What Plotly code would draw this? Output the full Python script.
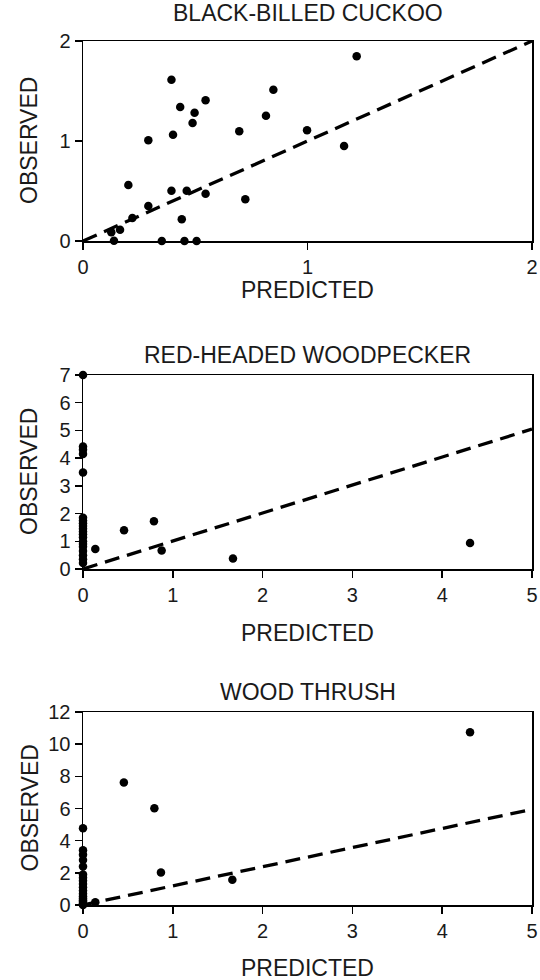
import plotly.graph_objects as go

# ---- data ----
titles = ["BLACK-BILLED CUCKOO", "RED-HEADED WOODPECKER", "WOOD THRUSH"]
x_title = "PREDICTED"
y_title = "OBSERVED"

cuckoo_pred = [1.219, 0.394, 0.848, 0.546, 0.433, 0.497, 0.488, 0.815, 0.696, 0.401,
               0.291, 0.998, 1.163, 0.202, 0.394, 0.462, 0.546, 0.723, 0.291, 0.22,
               0.44, 0.126, 0.165, 0.138, 0.351, 0.452, 0.506]
cuckoo_obs = [1.847, 1.613, 1.513, 1.407, 1.34, 1.283, 1.18, 1.253, 1.097, 1.063,
              1.007, 1.107, 0.95, 0.56, 0.503, 0.503, 0.473, 0.417, 0.35, 0.23,
              0.217, 0.087, 0.113, 0.003, 0.0, 0.0, 0.0]

wood_pred = [0, 0, 0, 0, 0, 0, 0, 0, 0, 0, 0, 0, 0, 0, 0, 0, 0, 0, 0, 0,
             0.137, 0.457, 0.79, 0.876, 1.67, 4.31]
wood_obs = [7.0, 4.42, 4.3, 4.15, 3.48, 1.85, 1.75, 1.65, 1.55, 1.45, 1.35, 1.25,
            1.15, 1.0, 0.9, 0.8, 0.65, 0.5, 0.35, 0.22,
            0.72, 1.40, 1.72, 0.67, 0.38, 0.94]

thrush_pred = [0, 0, 0, 0, 0, 0, 0, 0, 0, 0, 0, 0, 0, 0, 0, 0, 0, 0, 0,
               0.137, 0.455, 0.795, 0.868, 1.663, 4.31]
thrush_obs = [4.77, 3.4, 3.12, 2.8, 2.4, 1.9, 1.7, 1.5, 1.3, 1.1, 0.9, 0.7, 0.55,
              0.4, 0.3, 0.2, 0.1, 0.05, 0.0,
              0.165, 7.62, 6.01, 2.02, 1.57, 10.74]

line_x = [[0, 2], [0, 5], [0, 5]]
line_y = [[0, 2], [0, 5.05], [0, 5.95]]

x_ranges = [[0, 2], [0, 5], [0, 5]]
y_ranges = [[0, 2], [0, 7], [0, 12]]
x_dticks = [1, 1, 1]
y_dticks = [1, 1, 2]

# ---- layout geometry (page pixels) ----
W, H = 540, 980
left_px, right_px = 83, 532
panels_px = [(41, 241), (375, 569), (712, 905)]
title_y_px = [13, 355, 692]
xtitle_y_px = [290, 633, 968]
ytitle_x_px = 29


def fx(p):
    return p / W


def fy(p):
    return 1 - p / H


FONT = "Liberation Sans, Arial, Helvetica, sans-serif"
TXT = "#1a1a1a"

fig = go.Figure()

series = [(cuckoo_pred, cuckoo_obs), (wood_pred, wood_obs), (thrush_pred, thrush_obs)]

for i, ((px, py), lx, ly) in enumerate(zip(series, line_x, line_y)):
    xa = "x" if i == 0 else f"x{i+1}"
    ya = "y" if i == 0 else f"y{i+1}"
    fig.add_trace(go.Scatter(x=lx, y=ly, mode="lines", xaxis=xa, yaxis=ya,
                             line=dict(color="black", width=3.3, dash="15px,8px"),
                             showlegend=False, hoverinfo="skip"))
    fig.add_trace(go.Scatter(x=px, y=py, mode="markers", xaxis=xa, yaxis=ya,
                             marker=dict(color="black", size=8.5, line=dict(width=0)),
                             showlegend=False, cliponaxis=False))

layout = dict(width=W, height=H, margin=dict(l=0, r=0, t=0, b=0),
              plot_bgcolor="white", paper_bgcolor="white",
              font=dict(family=FONT, size=20, color=TXT))

annotations = []
for i, (top, bot) in enumerate(panels_px):
    sfx = "" if i == 0 else str(i + 1)
    xdom = [fx(left_px), fx(right_px)]
    ydom = [fy(bot), fy(top)]
    common = dict(showline=True, linecolor="black", linewidth=1.5, mirror=True,
                  ticks="outside", ticklen=7, tickwidth=1.5, tickcolor="black",
                  showgrid=False, zeroline=False, automargin=False,
                  ticklabelstandoff=0, ticklabeloverflow="allow",
                  tickfont=dict(family=FONT, size=20, color=TXT))
    layout["xaxis" + sfx] = dict(domain=xdom, range=x_ranges[i], dtick=x_dticks[i],
                                 tick0=0, anchor="y" + sfx, **common)
    layout["yaxis" + sfx] = dict(domain=ydom, range=y_ranges[i], dtick=y_dticks[i],
                                 tick0=0, anchor="x" + sfx, **common)
    cx = fx((left_px + right_px) / 2)
    annotations.append(dict(text=titles[i], xref="paper", yref="paper",
                            x=cx, y=fy(title_y_px[i]),
                            xanchor="center", yanchor="middle", showarrow=False,
                            font=dict(family=FONT, size=23, color=TXT)))
    annotations.append(dict(text=x_title, xref="paper", yref="paper",
                            x=cx, y=fy(xtitle_y_px[i]),
                            xanchor="center", yanchor="middle", showarrow=False,
                            font=dict(family=FONT, size=23, color=TXT)))
    annotations.append(dict(text=y_title, xref="paper", yref="paper",
                            x=fx(ytitle_x_px), y=fy((top + bot) / 2),
                            xanchor="center", yanchor="middle", showarrow=False,
                            textangle=-90,
                            font=dict(family=FONT, size=23, color=TXT)))

layout["annotations"] = annotations
fig.update_layout(**layout)

fig.write_html(
    "out.html",
    config={"displayModeBar": False, "staticPlot": True},
    post_script="document.body.style.margin='0';document.body.style.overflow='hidden';",
)
